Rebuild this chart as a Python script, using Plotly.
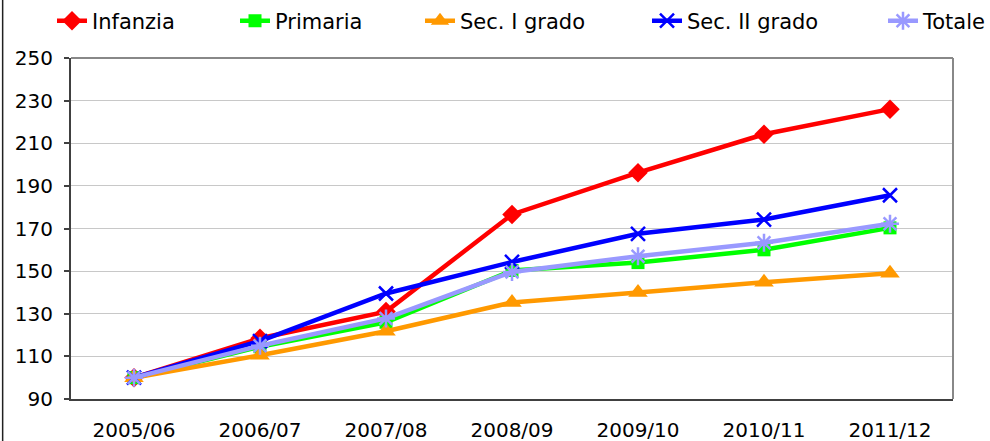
import plotly.graph_objects as go

anni = ["2005/06", "2006/07", "2007/08", "2008/09", "2009/10", "2010/11", "2011/12"]

infanzia = [100, 118.5, 131, 176.6, 196.2, 214.2, 226]
primaria = [100, 114.5, 126, 150.3, 154, 160, 170.3]
sec_i = [100, 110.5, 121.8, 135.3, 140, 144.8, 149]
sec_ii = [100, 117.2, 139.5, 154.3, 167.5, 174.2, 185.6]
totale = [100, 115, 127.8, 149.6, 157, 163.3, 172.2]

serie = [
    ("Infanzia", infanzia, "#ff0000", "diamond", 15),
    ("Primaria", primaria, "#00ff00", "square", 13),
    ("Sec. I grado", sec_i, "#ff9900", "triangle-up", 17),
    ("Sec. II grado", sec_ii, "#0000ff", "x-thin", 14),
    ("Totale", totale, "#9999ff", "asterisk", 15),
]

# posizione orizzontale (px) di ogni voce di legenda
legenda_x = [52, 235, 420, 647, 883]

fig = go.Figure()
legende = {}
for i, (nome, valori, colore, simbolo, dim) in enumerate(serie):
    chiave = "legend" if i == 0 else f"legend{i + 1}"
    fig.add_trace(go.Scatter(
        x=anni, y=valori, name=nome, mode="lines+markers",
        line=dict(color=colore, width=4.5),
        marker=dict(symbol=simbolo, size=dim, color=colore,
                    line=dict(color=colore, width=2.5 if "x" in simbolo or "ast" in simbolo else 0)),
        legend=chiave,
    ))
    legende[chiave] = dict(orientation="h", xref="container", yref="container",
                           x=legenda_x[i] / 990, xanchor="left", y=1 - 21 / 441, yanchor="middle",
                           font=dict(size=21), bgcolor="rgba(0,0,0,0)")

fig.update_layout(
    width=990, height=441,
    margin=dict(l=71, r=37, t=58, b=42),
    paper_bgcolor="white", plot_bgcolor="white",
    font=dict(family="DejaVu Sans", size=20, color="black"),
    showlegend=True,
    **legende,
)
fig.update_xaxes(showline=True, linecolor="#404040", linewidth=2, showgrid=False,
                 ticks="", ticklabelstandoff=12, range=[-0.5, 6.5], automargin=False)
fig.update_yaxes(range=[90, 250], tick0=90, dtick=20, showline=True, linecolor="#404040", linewidth=2,
                 showgrid=True, gridcolor="#c8c8c8", gridwidth=1, zeroline=False,
                 ticks="outside", ticklen=5, tickcolor="#404040", tickwidth=1.5,
                 ticklabelstandoff=7, automargin=False)

# bordo superiore e destro dell'area grafico
fig.add_shape(type="line", xref="paper", yref="paper", x0=0, x1=1, y0=1, y1=1,
              line=dict(color="#888888", width=2))
fig.add_shape(type="line", xref="paper", yref="paper", x0=1, x1=1, y0=0, y1=1,
              line=dict(color="#888888", width=2))
# bordo sinistro del riquadro esterno
fig.add_shape(type="line", xref="paper", yref="paper", x0=-0.0775, x1=-0.0775, y0=-0.2, y1=1.2,
              line=dict(color="#202020", width=1.5))

fig.write_html("out.html", config={"displayModeBar": False},
               post_script="document.body.style.margin='0';")
